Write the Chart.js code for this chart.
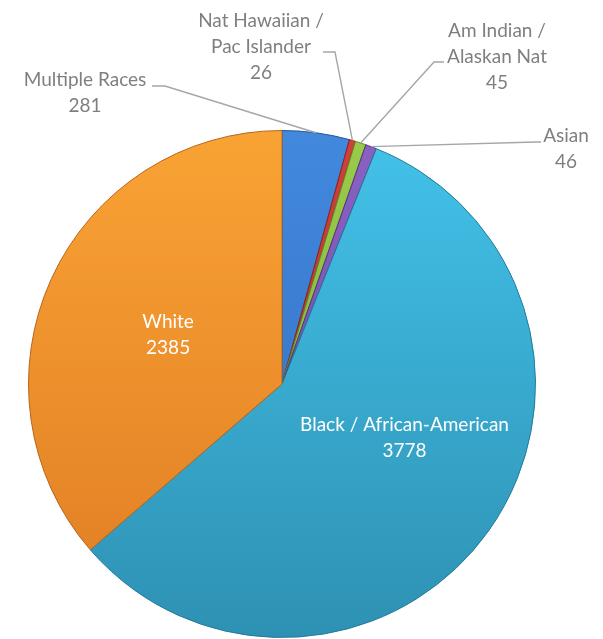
<!DOCTYPE html>
<html>
<head>
<meta charset="utf-8">
<script src="https://cdn.jsdelivr.net/npm/chart.js"></script>
<style>
    html, body { margin: 0; padding: 0; background: #fff; }
    .GraficoRacas { width: 603px; height: 639px; }
</style>
</head>
<body>
<div class="GraficoRacas"><canvas id="GraficoRacas" style="width:603px; height:639px"></canvas></div>
<script>
var categorias = ['Multiple Races', 'Nat Hawaiian / Pac Islander', 'Am Indian / Alaskan Nat', 'Asian', 'Black / African-American', 'White'];
var rotulos = [['Multiple Races'], ['Nat Hawaiian /', 'Pac Islander'], ['Am Indian /', 'Alaskan Nat'], ['Asian'], ['Black / African-American'], ['White']];
var valores = [281, 26, 45, 46, 3778, 2385];

var coresTopo = ['#4289DE', '#D0413A', '#9BCB4A', '#8A62C4', '#43C2EA', '#F9A334'];
var coresBase = ['#2F6BBE', '#A82E28', '#7AAA34', '#6846A0', '#2E91B3', '#E07C24'];
var coresBorda = ['#24569C', '#8A2420', '#5F8A26', '#4F3480', '#237A98', '#B8651C'];

// posicao dos rotulos: externos (com linha guia) e internos (deslocamento a partir do centro da fatia)
var layoutRotulos = [
    { x: 85, y: 80, linha: [[152, 86], [165, 86]] },
    { x: 261, y: 21, linha: [[323, 52], [335, 52]] },
    { x: 497, y: 31, linha: [[444, 62], [434, 62]] },
    { x: 566, y: 136, linha: [[541, 142], [536, 142]] },
    { interno: true, r: 0.55, dx: 9, dy: -27 },
    { interno: true, r: 0.52, dx: 6, dy: 6 }
];

var fonte = '19px Lato, "Noto Sans", sans-serif';
var alturaLinha = 26;

var pluginRotulos = {
    id: 'rotulos',
    afterDatasetsDraw: function (chart) {
        var ctx = chart.ctx;
        var meta = chart.getDatasetMeta(0);
        ctx.save();
        ctx.font = fonte;
        ctx.textAlign = 'center';
        ctx.textBaseline = 'middle';
        meta.data.forEach(function (arc, i) {
            var cfg = layoutRotulos[i];
            var linhas = rotulos[i].concat([String(valores[i])]);
            var meio = (arc.startAngle + arc.endAngle) / 2;
            if (cfg.interno) {
                var d = arc.outerRadius * cfg.r;
                var cx = arc.x + Math.cos(meio) * d + cfg.dx;
                var cy = arc.y + Math.sin(meio) * d + cfg.dy;
                ctx.fillStyle = '#FFFFFF';
                var y0 = cy - (linhas.length - 1) * alturaLinha / 2;
                linhas.forEach(function (t, k) { ctx.fillText(t, cx, y0 + k * alturaLinha); });
            } else {
                var px = arc.x + Math.cos(meio) * arc.outerRadius;
                var py = arc.y + Math.sin(meio) * arc.outerRadius;
                ctx.strokeStyle = '#A6A6A6';
                ctx.lineWidth = 1.4;
                ctx.beginPath();
                ctx.moveTo(cfg.linha[0][0], cfg.linha[0][1]);
                ctx.lineTo(cfg.linha[1][0], cfg.linha[1][1]);
                ctx.lineTo(px, py);
                ctx.stroke();
                ctx.fillStyle = '#7F7F7F';
                linhas.forEach(function (t, k) { ctx.fillText(t, cfg.x, cfg.y + k * alturaLinha); });
            }
        });
        ctx.restore();
    }
};

function gradiente(context) {
    var i = context.dataIndex;
    var area = context.chart.chartArea;
    if (!area) return coresTopo[i];
    var g = context.chart.ctx.createLinearGradient(0, area.top, 0, area.bottom);
    g.addColorStop(0, coresTopo[i]);
    g.addColorStop(1, coresBase[i]);
    return g;
}

var ctx = document.getElementById('GraficoRacas').getContext('2d');

var grafico = new Chart(ctx, {
    type: 'pie',
    data: {
        labels: categorias,
        datasets: [
            {
                label: 'Race',
                data: valores,
                backgroundColor: gradiente,
                borderColor: coresBorda,
                borderWidth: 1
            }
        ]
    },
    options: {
        responsive: false,
        animation: false,
        layout: { padding: { top: 130, bottom: 1, left: 28, right: 67 } },
        plugins: {
            legend: { display: false },
            tooltip: { enabled: false }
        }
    },
    plugins: [pluginRotulos]
});
</script>
</body>
</html>
